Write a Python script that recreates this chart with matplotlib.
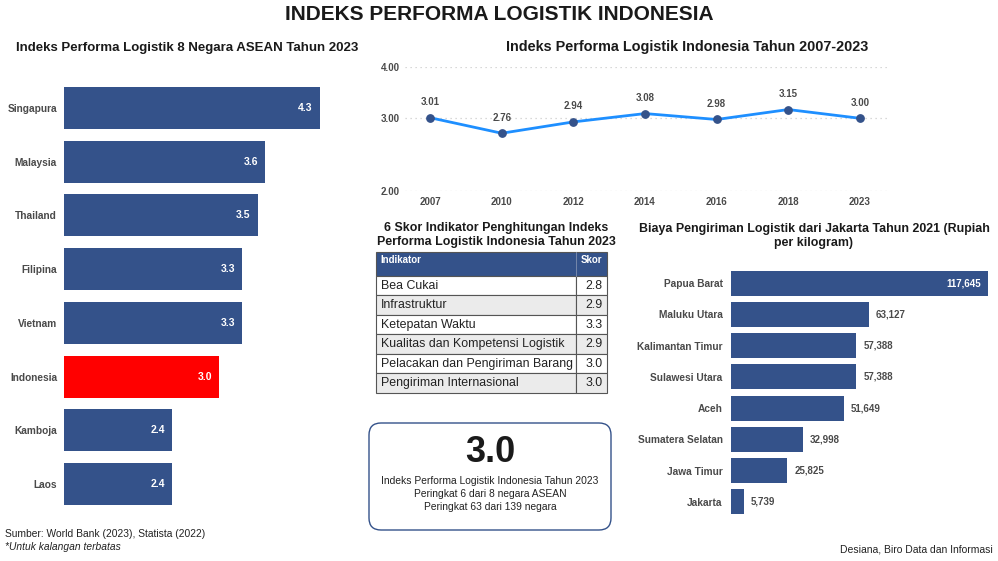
import numpy as np
import matplotlib
matplotlib.use("Agg")
import matplotlib.pyplot as plt
from matplotlib.patches import Rectangle, FancyBboxPatch

plt.rcParams['font.family'] = ['Liberation Sans', 'DejaVu Sans']

# data
asean_negara = ["Singapura", "Malaysia", "Thailand", "Filipina", "Vietnam", "Indonesia", "Kamboja", "Laos"]
asean_skor = [4.3, 3.6, 3.5, 3.3, 3.3, 3.0, 2.4, 2.4]

tahun = ["2007", "2010", "2012", "2014", "2016", "2018", "2023"]
lpi_indonesia = [3.01, 2.76, 2.94, 3.08, 2.98, 3.15, 3.00]

indikator = ["Bea Cukai", "Infrastruktur", "Ketepatan Waktu", "Kualitas dan Kompetensi Logistik",
             "Pelacakan dan Pengiriman Barang", "Pengiriman Internasional"]
indikator_skor = [2.8, 2.9, 3.3, 2.9, 3.0, 3.0]

provinsi = ["Papua Barat", "Maluku Utara", "Kalimantan Timur", "Sulawesi Utara", "Aceh",
            "Sumatera Selatan", "Jawa Timur", "Jakarta"]
biaya = [117645, 63127, 57388, 57388, 51649, 32998, 25825, 5739]

NAVY = "#34528a"
GRAY = "#4a4a4a"
W, H = 998, 561


def box(x0, y0, x1, y1):
    # pixel box (top-left origin) -> figure fraction rect
    return [x0 / W, 1 - y1 / H, (x1 - x0) / W, (y1 - y0) / H]


fig = plt.figure(figsize=(W / 100, H / 100), dpi=100)
fig.patch.set_facecolor("white")

NARROW = ['Liberation Sans Narrow', 'Liberation Sans', 'DejaVu Sans']
fig.text(0.5, 1 - 15 / H, "INDEKS PERFORMA LOGISTIK INDONESIA", ha="center", va="center",
         fontsize=15, fontweight="bold", family=NARROW, color="#1a1a1a")

# ---- left: ASEAN bars
ax1 = fig.add_axes(box(64, 81, 370, 511))
y = np.arange(len(asean_negara))
colors = ["#ff0000" if n == "Indonesia" else NAVY for n in asean_negara]
ax1.barh(y, np.array(asean_skor) - 1.0, left=1.0, height=0.78, color=colors)
ax1.set_xlim(1.0, 4.95)
ax1.set_ylim(len(asean_negara) - 0.5, -0.5)
for i, v in enumerate(asean_skor):
    ax1.text(v - 0.09, i, f"{v:.1f}", ha="right", va="center", color="white",
             fontsize=7.5, fontweight="bold")
ax1.set_yticks(y)
ax1.set_yticklabels(asean_negara, fontsize=7.3, fontweight="bold", color=GRAY)
ax1.tick_params(axis="y", length=0, pad=5)
ax1.set_xticks([])
for s in ax1.spines.values():
    s.set_visible(False)
fig.text(187 / W, 1 - 48 / H, "Indeks Performa Logistik 8 Negara ASEAN Tahun 2023", ha="center",
         va="center", fontsize=9.5, fontweight="bold", color="#1a1a1a")

# ---- top right: line chart
ax2 = fig.add_axes(box(405, 66.7, 890, 191))
x = np.arange(len(tahun))
ax2.plot(x, lpi_indonesia, color="#1e8fff", lw=2, zorder=2)
ax2.scatter(x, lpi_indonesia, s=28, color=NAVY, zorder=3)
ax2.set_yscale("log")
ax2.set_ylim(2, 4)
ax2.set_yticks([2, 3, 4])
ax2.set_yticklabels(["2.00", "3.00", "4.00"])
ax2.yaxis.set_minor_locator(matplotlib.ticker.NullLocator())
ax2.set_xlim(-0.35, 6.42)
ax2.set_xticks(x)
ax2.set_xticklabels(tahun)
for lab in ax2.get_xticklabels() + ax2.get_yticklabels():
    lab.set_fontsize(7)
    lab.set_fontweight("bold")
    lab.set_color(GRAY)
ax2.tick_params(length=0, pad=4)
ax2.grid(axis="y", color="#cccccc", ls=(0, (1, 3)), lw=0.9)
for s in ax2.spines.values():
    s.set_visible(False)
for i, v in enumerate(lpi_indonesia):
    ax2.annotate(f"{v:.2f}", (i, v), xytext=(0, 7.5), textcoords="offset points",
                 ha="center", va="bottom", fontsize=7, fontweight="bold", color=GRAY)
fig.text(687 / W, 1 - 47 / H, "Indeks Performa Logistik Indonesia Tahun 2007-2023", ha="center",
         va="center", fontsize=10.4, fontweight="bold", family=NARROW, color="#1a1a1a")

# ---- table
fig.text(496 / W, 1 - 235 / H, "6 Skor Indikator Penghitungan Indeks\nPerforma Logistik Indonesia Tahun 2023",
         ha="center", va="center", fontsize=8.9, fontweight="bold", color="#1a1a1a", linespacing=1.25)
ax3 = fig.add_axes(box(376, 252, 607, 393))
hdr = 1.23
nrow = len(indikator)
ax3.set_xlim(0, 1)
ax3.set_ylim(hdr + nrow, 0)
ax3.axis("off")
split = 0.866
ax3.add_patch(Rectangle((0, 0), 1, hdr, facecolor=NAVY, edgecolor="#555555", lw=0.8, clip_on=False))
ax3.plot([split, split], [0, hdr], color="#8090b0", lw=0.6)
ax3.text(0.02, 0.42, "Indikator", ha="left", va="center", color="white", fontsize=7, fontweight="bold")
ax3.text(0.98, 0.42, "Skor", ha="right", va="center", color="white", fontsize=7, fontweight="bold")
for i, (nm, sk) in enumerate(zip(indikator, indikator_skor)):
    y0 = hdr + i
    fc = "white" if i % 2 == 0 else "#ebebeb"
    ax3.add_patch(Rectangle((0, y0), split, 1, facecolor=fc, edgecolor="#555555", lw=0.8, clip_on=False))
    ax3.add_patch(Rectangle((split, y0), 1 - split, 1, facecolor=fc, edgecolor="#555555", lw=0.8,
                            clip_on=False))
    ax3.text(0.02, y0 + 0.5, nm, ha="left", va="center", fontsize=8.9, color="#222222")
    ax3.text(0.98, y0 + 0.5, f"{sk:.1f}", ha="right", va="center", fontsize=8.9, color="#222222")

# ---- KPI box
ax4 = fig.add_axes(box(367, 421, 613, 532))
ax4.set_xlim(0, 246)
ax4.set_ylim(111, 0)
ax4.axis("off")
ax4.add_patch(FancyBboxPatch((2, 2), 242, 107, boxstyle="round,pad=0,rounding_size=12",
                             facecolor="white", edgecolor=NAVY, lw=1))
ax4.text(123, 32, "3.0", ha="center", va="center", fontsize=26, fontweight="bold", color="#1a1a1a")
ax4.text(123, 55.5, "Indeks Performa Logistik Indonesia Tahun 2023\nPeringkat 6 dari 8 negara ASEAN\n"
         "Peringkat 63 dari 139 negara", ha="center", va="top", fontsize=7.4, color="#222222",
         linespacing=1.32)

# ---- right: shipping cost bars
ax5 = fig.add_axes(box(731, 267.4, 995, 517.6))
y = np.arange(len(provinsi))
ax5.barh(y, biaya, height=0.8, color=NAVY)
ax5.set_xlim(0, 120850)
ax5.set_ylim(len(provinsi) - 0.5, -0.5)
for i, v in enumerate(biaya):
    if v > 100000:
        ax5.annotate(f"{v:,}", (v, i), xytext=(-5, 0), textcoords="offset points", ha="right",
                     va="center", color="white", fontsize=7, fontweight="bold")
    else:
        ax5.annotate(f"{v:,}", (v, i), xytext=(5, 0), textcoords="offset points", ha="left",
                     va="center", color=GRAY, fontsize=7, fontweight="bold")
ax5.set_yticks(y)
ax5.set_yticklabels(provinsi, fontsize=7.3, fontweight="bold", color=GRAY)
ax5.tick_params(axis="y", length=0, pad=6)
ax5.set_xticks([])
for s in ax5.spines.values():
    s.set_visible(False)
fig.text(814 / W, 1 - 236 / H, "Biaya Pengiriman Logistik dari Jakarta Tahun 2021 (Rupiah\nper kilogram)",
         ha="center", va="center", fontsize=8.9, fontweight="bold", color="#1a1a1a", linespacing=1.25)

# ---- footer
fig.text(5 / W, 1 - 534 / H, "Sumber: World Bank (2023), Statista (2022)", ha="left", va="center",
         fontsize=7.4, color="#222222")
fig.text(5 / W, 1 - 547 / H, "*Untuk kalangan terbatas", ha="left", va="center",
         fontsize=7.4, style="italic", color="#222222")
fig.text(993 / W, 1 - 550 / H, "Desiana, Biro Data dan Informasi", ha="right", va="center",
         fontsize=7.5, color="#222222")

fig.savefig("out.png", dpi=100)
